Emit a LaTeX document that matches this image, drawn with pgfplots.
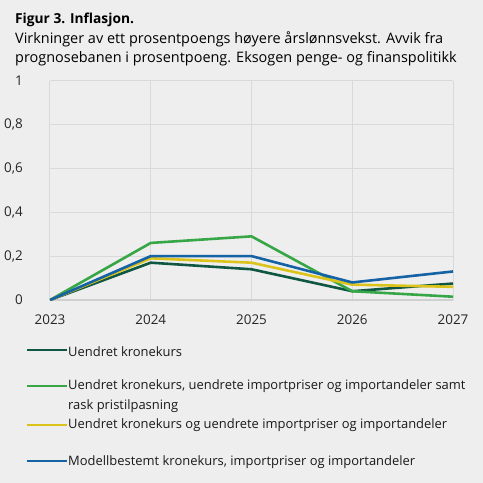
\documentclass[border=0pt]{standalone}
\usepackage{pgfplots}
\pgfplotsset{compat=1.18}
\usepackage{fontspec}
\setmainfont{Open Sans}
\definecolor{bg}{HTML}{EEEEEE}
\definecolor{gridc}{HTML}{D9D9D9}
\definecolor{zeroc}{HTML}{CFCFCF}
\definecolor{dgreen}{HTML}{0F5743}
\definecolor{mgreen}{HTML}{37A647}
\definecolor{yel}{HTML}{DCC31A}
\definecolor{blu}{HTML}{1563A5}
\begin{document}
\begin{tikzpicture}
\fill[bg] (0bp,0bp) rectangle (483bp,-483bp);
\node[anchor=base west, inner sep=0pt, font=\bfseries\fontsize{13.8}{16}\selectfont] at (15bp,-23bp) {Figur 3. Inflasjon.};
\node[anchor=base west, inner sep=0pt, font=\fontsize{14.5}{17}\selectfont] at (15bp,-43bp) {Virkninger av ett prosentpoengs høyere årslønnsvekst. Avvik fra};
\node[anchor=base west, inner sep=0pt, font=\fontsize{14.5}{17}\selectfont] at (15bp,-62bp) {prognosebanen i prosentpoeng. Eksogen penge- og finanspolitikk};
\begin{axis}[
  at={(50bp,-300bp)}, anchor=south west,
  scale only axis, width=403bp, height=219.5bp,
  xmin=2023, xmax=2027, ymin=0, ymax=1,
  xtick={2023,2024,2025,2026,2027},
  ytick={0,0.2,0.4,0.6,0.8,1},
  /pgf/number format/.cd, use comma, 1000 sep={}, assume math mode=true,
  /pgfplots/.cd,
  grid=major, grid style={gridc, line width=1bp},
  major tick length=0pt,
  axis line style={draw=none},
  extra y ticks={0}, extra y tick labels={},
  extra tick style={grid style={zeroc, line width=1.2bp}},
  tick label style={font=\fontsize{13.5}{15}\selectfont, text=black!85, inner sep=0pt},
  yticklabel style={anchor=east, xshift=-11bp},
  yticklabel shift=16bp,
  xticklabel shift=15bp,
  every axis plot/.append style={line width=2.6bp},
]
\addplot[dgreen] coordinates {(2023,0) (2024,0.17) (2025,0.14) (2026,0.04) (2027,0.075)};
\addplot[mgreen] coordinates {(2023,0) (2024,0.26) (2025,0.29) (2026,0.04) (2027,0.015)};
\addplot[yel] coordinates {(2023,0) (2024,0.19) (2025,0.17) (2026,0.07) (2027,0.06)};
\addplot[blu] coordinates {(2023,0) (2024,0.2) (2025,0.2) (2026,0.08) (2027,0.13)};
\end{axis}
% legend
\begin{scope}[font=\fontsize{13}{20}\selectfont, every node/.style={anchor=base west, inner sep=0pt, text=black!90}]
\draw[dgreen, line width=2.6bp] (27bp,-350bp) -- (67bp,-350bp);
\node at (68bp,-356.5bp) {Uendret kronekurs};
\draw[mgreen, line width=2.6bp] (27bp,-386bp) -- (67bp,-386bp);
\node at (68bp,-389.5bp) {Uendret kronekurs, uendrete importpriser og importandeler samt};
\node at (68bp,-409.5bp) {rask pristilpasning};
\draw[yel, line width=2.6bp] (27bp,-425bp) -- (67bp,-425bp);
\node at (68bp,-428.5bp) {Uendret kronekurs og uendrete importpriser og importandeler};
\draw[blu, line width=2.6bp] (27bp,-461bp) -- (67bp,-461bp);
\node at (68bp,-465.5bp) {Modellbestemt kronekurs, importpriser og importandeler};
\end{scope}
\end{tikzpicture}
\end{document}
